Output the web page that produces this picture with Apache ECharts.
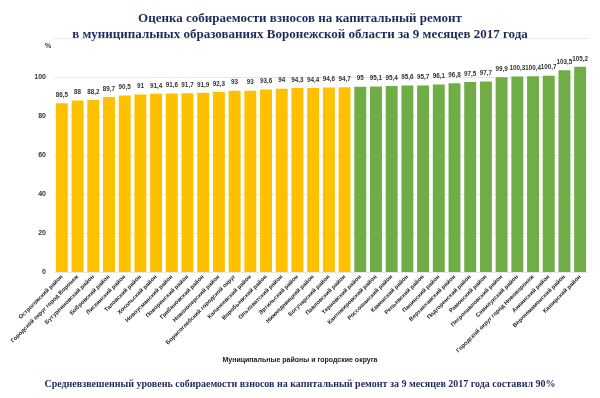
<!DOCTYPE html>
<html>
<head>
<meta charset="utf-8">
<script src="https://cdn.jsdelivr.net/npm/echarts@6/dist/echarts.min.js"></script>
<style>
  html, body { margin: 0; padding: 0; background: #fff; }
  #chart { width: 600px; height: 398px; }
</style>
</head>
<body>
<div id="chart"></div>
<script>
// районы, отсортированные по уровню собираемости
const districts = [
  'Острогожский район', 'Городской округ город Воронеж', 'Бутурлиновский район',
  'Бобровский район', 'Лискинский район', 'Таловский район', 'Хохольский район',
  'Новоусманский район', 'Поворинский район', 'Грибановский район',
  'Новохоперский район', 'Борисоглебский городской округ', 'Калачеевский район',
  'Воробьевский район', 'Ольховатский район', 'Эртильский район',
  'Нижнедевицкий район', 'Богучарский район', 'Павловский район',
  'Терновский район', 'Кантемировский район', 'Россошанский район',
  'Каменский район', 'Репьевский район', 'Панинский район', 'Верхнехавский район',
  'Подгоренский район', 'Рамонский район', 'Петропавловский район',
  'Семилукский район', 'Городской округ город Нововоронеж', 'Аннинский район',
  'Верхнемамонский район', 'Каширский район'
];
const rates = [
  86.5, 88, 88.2, 89.7, 90.5, 91, 91.4, 91.6, 91.7, 91.9, 92.3, 93, 93, 93.6,
  94, 94.3, 94.4, 94.6, 94.7,
  95, 95.1, 95.4, 95.6, 95.7, 96.1, 96.8, 97.5, 97.7, 99.9, 100.3, 100.4,
  100.7, 103.5, 105.2
];
const yTicks = [0, 20, 40, 60, 80, 100];
const threshold = 95; // от 95% и выше — зелёные

const chart = echarts.init(document.getElementById('chart'), null, { renderer: 'canvas' });

const option = {
  animation: false,
  title: [
    {
      text: 'Оценка собираемости взносов на капитальный ремонт\nв муниципальных образованиях Воронежской области за 9 месяцев 2017 года',
      left: 'center',
      top: 6,
      textStyle: {
        fontFamily: 'Liberation Serif', fontWeight: 'bold', fontSize: 13,
        color: '#1f2a5c', lineHeight: 16, align: 'center'
      }
    },
    {
      text: 'Средневзвешенный уровень собираемости взносов на капитальный ремонт за 9 месяцев 2017 года составил 90%',
      left: 'center',
      top: 374,
      textStyle: {
        fontFamily: 'Liberation Serif', fontWeight: 'bold', fontSize: 10,
        color: '#1f2a5c'
      }
    },
    {
      text: 'Муниципальные районы и городские округа',
      left: 'center',
      top: 352,
      textStyle: {
        fontFamily: 'Liberation Sans', fontWeight: 'bold', fontSize: 7,
        color: '#222'
      }
    },
    {
      text: '%',
      left: 40,
      top: 38,
      textStyle: { fontFamily: 'Liberation Sans', fontWeight: 'bold', fontSize: 7, color: '#333' }
    }
  ],
  grid: { left: 54, right: 12, top: 38, bottom: 126 },
  xAxis: {
    type: 'category',
    data: districts,
    axisLine: { show: false },
    axisTick: { show: false },
    axisLabel: {
      rotate: 45, interval: 0, fontSize: 5.8, fontWeight: 'bold',
      fontFamily: 'Liberation Sans', color: '#222', margin: 4
    }
  },
  yAxis: {
    type: 'value',
    min: 0,
    max: 120,
    interval: 20,
    axisLine: { show: false },
    axisTick: { show: false },
    splitLine: {
      show: true,
      lineStyle: { color: '#e8e8e8', width: 1 }
    },
    axisLabel: {
      fontSize: 7, fontWeight: 'bold', fontFamily: 'Liberation Sans', color: '#333',
      formatter: v => (yTicks.indexOf(v) >= 0 ? String(v) : '')
    }
  },
  series: [{
    type: 'bar',
    barCategoryGap: '24%',
    data: rates.map(v => ({
      value: v,
      itemStyle: { color: v >= threshold ? '#70ad47' : '#ffc000' }
    })),
    label: {
      show: true,
      position: 'top',
      distance: 5,
      fontSize: 6.3,
      fontWeight: 'bold',
      fontFamily: 'Liberation Sans',
      color: '#333',
      formatter: p => String(p.value).replace('.', ',')
    }
  }]
};

chart.setOption(option);
</script>
</body>
</html>
